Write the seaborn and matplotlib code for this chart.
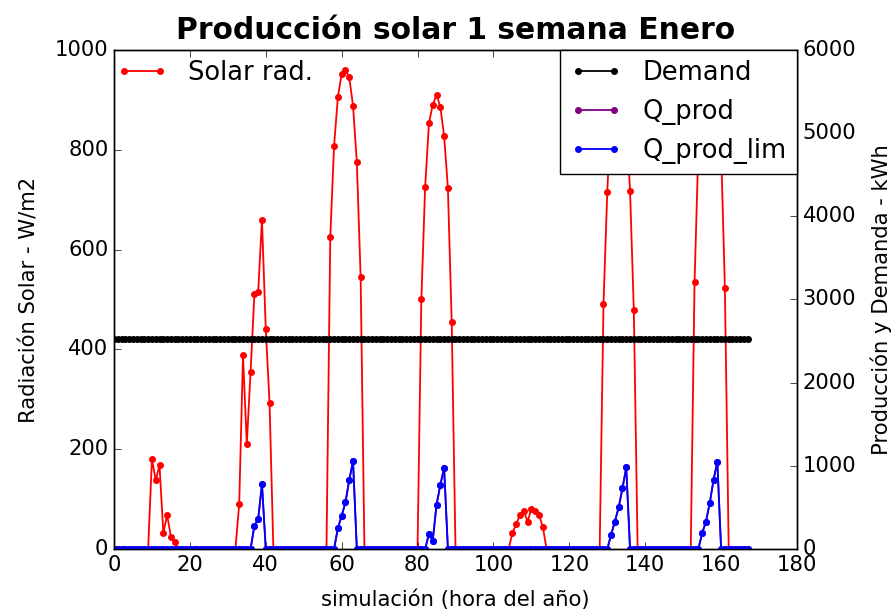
import numpy as np
import matplotlib
matplotlib.use('Agg')
import matplotlib.pyplot as plt
import seaborn as sns

plt.style.use('classic')
plt.rcParams['font.family'] = ['DejaVu Sans']
plt.rcParams['font.size'] = 15.2
plt.rcParams['xtick.major.size'] = 5
plt.rcParams['ytick.major.size'] = 5

# ---------------- data (one week of January, hourly) ----------------
n_hours = 168

solar_hours = [10, 11, 12, 13, 14, 15, 16,
               33, 34, 35, 36, 37, 38, 39, 40, 41,
               57, 58, 59, 60, 61, 62, 63, 64, 65,
               81, 82, 83, 84, 85, 86, 87, 88, 89,
               105, 106, 107, 108, 109, 110, 111, 112, 113,
               129, 130, 131, 132, 133, 134, 135, 136, 137,
               153, 154, 155, 156, 157, 158, 159, 160, 161]
solar_vals = [180, 138, 168, 32, 68, 25, 15,
              90, 388, 210, 355, 510, 515, 660, 440, 292,
              625, 808, 905, 952, 960, 945, 888, 775, 545,
              500, 725, 853, 890, 910, 886, 828, 723, 455,
              32, 50, 68, 76, 55, 80, 76, 68, 45,
              490, 715, 880, 930, 950, 925, 870, 718, 478,
              535, 800, 880, 930, 950, 930, 880, 800, 522]

prod_lim_hours = [37, 38, 39,
                  59, 60, 61, 62, 63,
                  83, 84, 85, 86, 87,
                  131, 132, 133, 134, 135,
                  155, 156, 157, 158, 159]
prod_lim_vals = [280, 360, 780,
                 250, 400, 560, 830, 1055,
                 180, 100, 530, 770, 975,
                 170, 330, 500, 730, 980,
                 190, 330, 550, 830, 1050]

prod_hours = prod_lim_hours
prod_vals = prod_lim_vals

demand_level = 2530

x_ticks = [0, 20, 40, 60, 80, 100, 120, 140, 160, 180]
y1_ticks = [0, 200, 400, 600, 800, 1000]
y2_ticks = [0, 1000, 2000, 3000, 4000, 5000, 6000]

# ---------------- build series ----------------
hours = np.arange(n_hours)
solar = np.zeros(n_hours)
solar[solar_hours] = solar_vals
q_prod_lim = np.zeros(n_hours)
q_prod_lim[prod_lim_hours] = prod_lim_vals
q_prod = np.zeros(n_hours)
q_prod[prod_hours] = prod_vals
demand = np.full(n_hours, float(demand_level))

# ---------------- figure ----------------
fig = plt.figure(figsize=(8.94, 6.09), dpi=100, facecolor='white')
ax1 = fig.add_axes([0.1275, 0.0985, 0.764, 0.8195])
ax1.set_facecolor('white')
ax2 = ax1.twinx()

common = dict(marker='.', markersize=8, linewidth=1.3, mew=1.0, errorbar=None)

sns.lineplot(x=hours, y=solar, ax=ax1, color='red', mec='red',
             label='Solar rad.', **common)
sns.lineplot(x=hours, y=demand, ax=ax2, color='black', mec='black',
             label='Demand', **common)
sns.lineplot(x=hours, y=q_prod, ax=ax2, color='purple', mec='purple',
             label='Q_prod', **common)
sns.lineplot(x=hours, y=q_prod_lim, ax=ax2, color='blue', mec='blue',
             label='Q_prod_lim', **common)

ax1.set_xlim(0, 180)
ax1.set_ylim(0, 1000)
ax2.set_ylim(0, 6000)
ax1.set_xticks(x_ticks)
ax1.set_yticks(y1_ticks)
ax2.set_yticks(y2_ticks)

ax1.set_xlabel('simulación (hora del año)', labelpad=11)
ax1.set_ylabel('Radiación Solar - W/m2', labelpad=11)
ax2.set_ylabel('Producción y Demanda - kWh', labelpad=10)
ax1.set_title('Producción solar 1 semana Enero', fontsize=21.4,
              fontweight='bold', pad=8)

ax1.legend(loc='upper left', bbox_to_anchor=(-0.012, 1.0), borderaxespad=0,
           frameon=False, fontsize=18.5)
ax2.legend(loc='upper right', borderaxespad=0, fontsize=18.5)

fig.savefig('out.png', dpi=100, facecolor='white')
